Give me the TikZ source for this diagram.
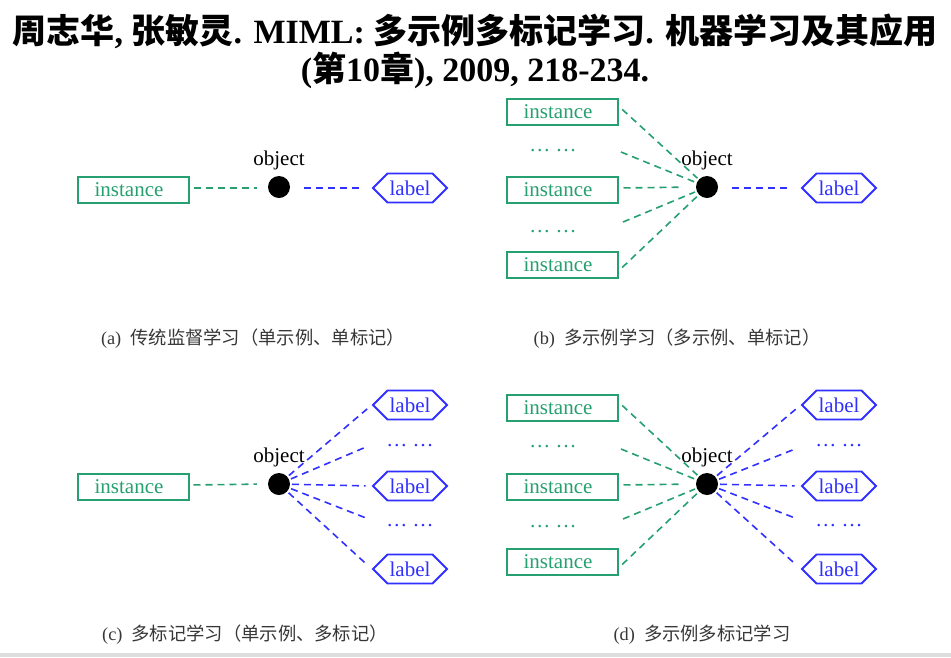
\documentclass[tikz,border=0pt]{standalone}
\usepackage{fontspec}
\setmainfont{Liberation Serif}
\newfontfamily\cjk{Noto Sans CJK SC}
\usetikzlibrary{shapes.symbols}
\definecolor{ig}{RGB}{38,160,112}
\definecolor{lb}{RGB}{48,48,255}
\definecolor{capc}{RGB}{55,55,55}
\begin{document}
\begin{tikzpicture}[x=1pt,y=-1pt,
  inst/.style={draw=ig, line width=2pt, text=ig, minimum width=111pt, minimum height=26pt, inner sep=0pt, font=\fontsize{21}{21}\selectfont, execute at begin node=\hspace*{-8pt}},
  lab/.style={signal, signal to=east and west, draw=lb, text=lb, line width=1.8pt, minimum width=74pt, minimum height=29pt, inner sep=0pt, font=\fontsize{21}{21}\selectfont},
  objdot/.style={circle, fill=black, minimum size=22pt, inner sep=0pt},
  objtxt/.style={font=\fontsize{21}{21}\selectfont, inner sep=0pt},
  gdots/.style={text=ig, font=\fontsize{21}{21}\selectfont, inner sep=0pt},
  bdots/.style={text=lb, font=\fontsize{21}{21}\selectfont, inner sep=0pt},
  gd/.style={draw=ig, dash pattern=on 7pt off 5pt, line width=1.6pt},
  bd/.style={draw=lb, dash pattern=on 7pt off 5pt, line width=1.6pt},
  capt/.style={text=capc, font=\fontsize{18.3}{18.3}\selectfont, inner sep=0pt},
  ttl/.style={font=\fontsize{34}{34}\selectfont\bfseries, inner sep=0pt}
]
\useasboundingbox (0,0) rectangle (951,657);
\fill[white] (0,0) rectangle (951,657);
\fill[black!13] (0,653) rectangle (951,657);

% title
\node[ttl] (t1) at (475,31) {{\cjk\bfseries 周志华}, {\cjk\bfseries 张敏灵}. MIML: {\cjk\bfseries 多示例多标记学习}. {\cjk\bfseries 机器学习及其应用}};
\node[ttl] (t2) at (475,70) {({\cjk\bfseries 第}10{\cjk\bfseries 章}), 2009, 218-234.};

% ---------- (a)
\node[inst] (ia) at (133,190) {instance};
\node[objdot] (oa) at (279,187) {};
\node[objtxt] (ota) at (279,160) {object};
\node[lab] (la) at (410,188) {label};
\draw[gd, shorten <=4pt, shorten >=11pt] (ia.east) ++(0,-2) -- (oa.west |- la.west);
\draw[bd, shorten <=14pt, shorten >=11pt] (oa.east |- la.west) -- (la.west);
\node[capt] (ca) at (253,339) {(a)\ \ {\cjk 传统监督学习（单示例、单标记）}};

% ---------- (b)
\node[inst] (ib1) at (562,112) {instance};
\node[gdots] (gb1) at (553,151) {… …};
\node[inst] (ib2) at (562,190) {instance};
\node[gdots] (gb2) at (553,232) {… …};
\node[inst] (ib3) at (562,265) {instance};
\node[objdot] (ob) at (707,187) {};
\node[objtxt] (otb) at (707,160) {object};
\node[lab] (lb) at (839,188) {label};
\coordinate (gb1e) at (621,152);
\coordinate (gb2e) at (623,222);
\draw[gd, shorten <=5pt, shorten >=13pt] (ib1.north east) ++(0,8) -- (ob.center);
\draw[gd, shorten >=13pt] (gb1e) -- (ob.center);
\draw[gd, shorten <=5pt, shorten >=17pt] (ib2.east) ++(0,-2) -- (ob.west |- ob.center);
\draw[gd, shorten >=13pt] (gb2e) -- (ob.center);
\draw[gd, shorten <=5pt, shorten >=13pt] (ib3.south east) ++(0,-8) -- (ob.center);
\draw[bd, shorten <=14pt, shorten >=11pt] (ob.east |- lb.west) -- (lb.west);
\node[capt] (cb) at (677,339) {(b)\ \ {\cjk 多示例学习（多示例、单标记）}};

% ---------- (c)
\node[inst] (ic) at (133,487) {instance};
\node[objdot] (oc) at (279,484) {};
\node[objtxt] (otc) at (279,457) {object};
\node[lab] (lc1) at (410,405) {label};
\node[bdots] (bc1) at (410,446) {… …};
\node[lab] (lc2) at (410,486) {label};
\node[bdots] (bc2) at (410,526) {… …};
\node[lab] (lc3) at (410,569) {label};
\coordinate (bc1e) at (366,447);
\coordinate (bc2e) at (366,518);
\draw[gd, shorten <=4pt, shorten >=11pt] (ic.east) ++(0,-2) -- (oc.west |- oc.center);
\draw[bd, shorten <=13pt, shorten >=6pt] (oc.center) -- (lc1.west);
\draw[bd, shorten <=13pt] (oc.center) -- (bc1e);
\draw[bd, shorten <=13pt, shorten >=6pt] (oc.center) -- (lc2.west);
\draw[bd, shorten <=13pt] (oc.center) -- (bc2e);
\draw[bd, shorten <=13pt, shorten >=6pt] (oc.center) -- (lc3.west);
\node[capt] (cc) at (245,635) {(c)\ \ {\cjk 多标记学习（单示例、多标记）}};

% ---------- (d)
\node[inst] (id1) at (562,408) {instance};
\node[gdots] (gd1) at (553,447) {… …};
\node[inst] (id2) at (562,487) {instance};
\node[gdots] (gd2) at (553,527) {… …};
\node[inst] (id3) at (562,562) {instance};
\node[objdot] (od) at (707,484) {};
\node[objtxt] (otd) at (707,457) {object};
\node[lab] (ld1) at (839,405) {label};
\node[bdots] (bd1) at (839,446) {… …};
\node[lab] (ld2) at (839,486) {label};
\node[bdots] (bd2) at (839,526) {… …};
\node[lab] (ld3) at (839,569) {label};
\coordinate (gd1e) at (621,449);
\coordinate (gd2e) at (623,519);
\draw[gd, shorten <=5pt, shorten >=13pt] (id1.north east) ++(0,8) -- (od.center);
\draw[gd, shorten >=13pt] (gd1e) -- (od.center);
\draw[gd, shorten <=5pt, shorten >=17pt] (id2.east) ++(0,-2) -- (od.west |- od.center);
\draw[gd, shorten >=13pt] (gd2e) -- (od.center);
\draw[gd, shorten <=5pt, shorten >=13pt] (id3.south east) ++(0,-8) -- (od.center);
\coordinate (bd1e) at (795,449);
\coordinate (bd2e) at (795,518);
\draw[bd, shorten <=13pt, shorten >=6pt] (od.center) -- (ld1.west);
\draw[bd, shorten <=13pt] (od.center) -- (bd1e);
\draw[bd, shorten <=13pt, shorten >=6pt] (od.center) -- (ld2.west);
\draw[bd, shorten <=13pt] (od.center) -- (bd2e);
\draw[bd, shorten <=13pt, shorten >=6pt] (od.center) -- (ld3.west);
\node[capt] (cd) at (702,635) {(d)\ \ {\cjk 多示例多标记学习}};
\end{tikzpicture}
\end{document}
